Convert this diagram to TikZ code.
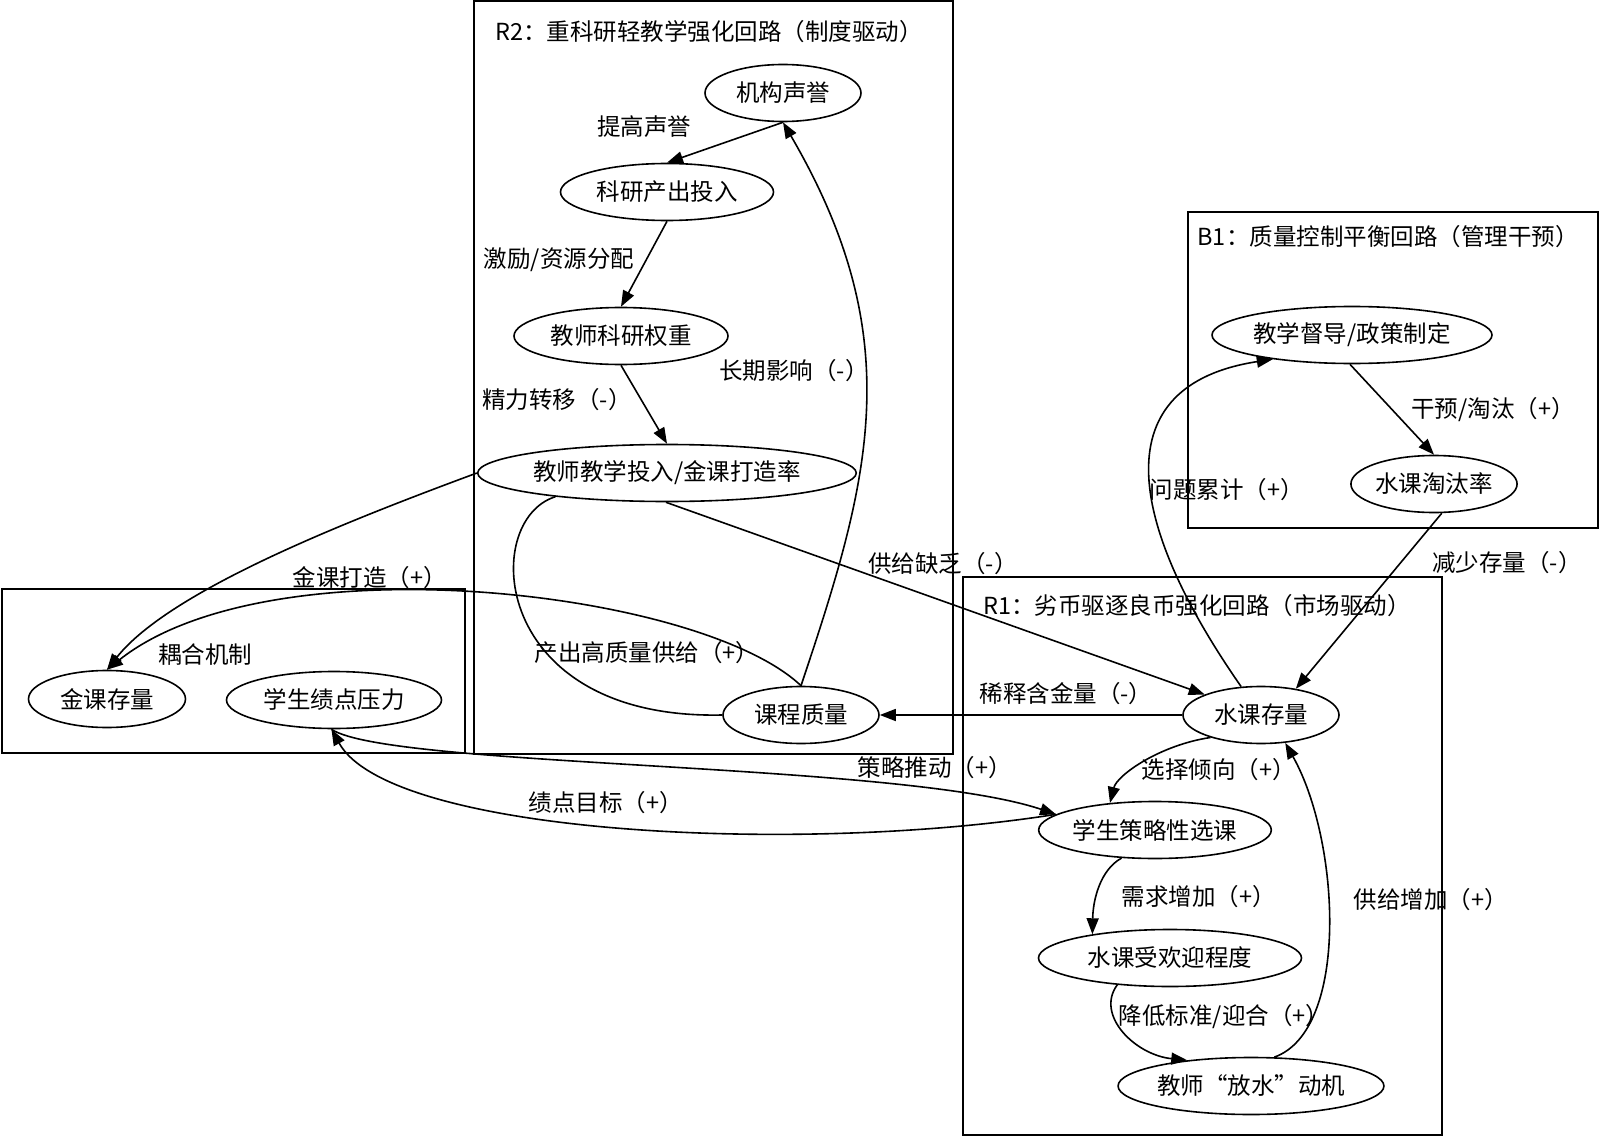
\documentclass[tikz,border=0pt]{standalone}
\usepackage{fontspec}
\setmainfont{Noto Sans CJK SC}
\usetikzlibrary{arrows.meta,shapes.geometric}
\newcommand\dgfont{\fontsize{23.5}{28}\selectfont}
\begin{document}
\begin{tikzpicture}[x=1pt,y=-1pt,
  var/.style={draw,ellipse,line width=1.6pt,inner sep=0pt,minimum height=57pt,font=\dgfont},
  lbl/.style={inner sep=0pt,font=\dgfont},
  clus/.style={draw,line width=1.6pt},
  lnk/.style={line width=1.6pt,-{Triangle[length=16pt,width=12pt]}},
  plain/.style={line width=1.6pt}]
\fill[white] (0,0) rectangle (1599,1137);
\useasboundingbox (0,0) rectangle (1599,1137);

% clusters
\draw[clus] (474,1) rectangle (953,754);
\draw[clus] (1188,212) rectangle (1598,528);
\draw[clus] (2,589) rectangle (465,753);
\draw[clus] (963,577) rectangle (1442,1135);
\node[lbl] (tR2) at (709,32) {R2：重科研轻教学强化回路（制度驱动）};
\node[lbl] (tB1) at (1388,237) {B1：质量控制平衡回路（管理干预）};
\node[lbl] (tR1) at (1197,606) {R1：劣币驱逐良币强化回路（市场驱动）};

% nodes
\node[var,minimum width=156pt] (rep) at (783,93) {机构声誉};
\node[var,minimum width=213pt] (res) at (667,192) {科研产出投入};
\node[var,minimum width=214pt] (wt) at (621,336) {教师科研权重};
\node[var,minimum width=350pt] (tch) at (667,473) {教师教学投入/金课打造率};
\node[var,minimum width=156pt] (qual) at (801,715) {课程质量};
\node[var,minimum width=157pt] (gold) at (107,699) {金课存量};
\node[var,minimum width=215pt] (gpa) at (334,700) {学生绩点压力};
\node[var,minimum width=280pt] (sup) at (1352,335) {教学督导/政策制定};
\node[var,minimum width=156pt] (elim) at (1434,484) {水课淘汰率};
\node[var,minimum width=156pt] (water) at (1261,715) {水课存量};
\node[var,minimum width=232pt] (sel) at (1155,830) {学生策略性选课};
\node[var,minimum width=263pt] (pop) at (1170,958) {水课受欢迎程度};
\node[var,minimum width=262pt] (fang) at (1251,1086) {教师{\addfontfeature{CharacterWidth=Full}“放水”}动机};

% edges R2
\draw[lnk] (rep.south) -- (res.north);
\draw[lnk] (res.south) -- (wt.north);
\draw[lnk] (wt.south) -- (tch.north);
\draw[lnk] (qual.north) .. controls (870,480) and (910,340) .. (rep.south);
\draw[plain] (tch.192) .. controls (480,520) and (490,720) .. (qual.west);
\draw[lnk] (qual.north) .. controls (700,590) and (270,540) .. (gold.north);
\draw[lnk] (tch.west) .. controls (350,520) and (170,590) .. (gold.north);
\draw[lnk] (tch.268) -- (water.160);
\draw[lnk] (water.west) -- (qual.east);

% edges B1
\draw[lnk] (water.125) .. controls (1125,520) and (1105,385) .. (sup.197);
\draw[lnk] (sup.266) -- (elim.north);
\draw[lnk] (elim.285) -- (water.37);

% edges R1
\draw[lnk] (water.204) .. controls (1160,745) and (1117,775) .. (sel.149);
\draw[lnk] (sel.220) .. controls (1100,870) and (1093,900) .. (pop.163);
\draw[lnk] (pop.207) .. controls (1095,1015) and (1135,1055) .. (fang.158);
\draw[lnk] (fang.51) .. controls (1350,1030) and (1340,840) .. (water.311);

% coupling edges
\draw[lnk] (gpa.265) .. controls (390,768) and (900,762) .. (sel.171);
\draw[lnk] (sel.171) .. controls (800,855) and (390,835) .. (gpa.265);

% edge labels
\node[lbl] (l1) at (644,127) {提高声誉};
\node[lbl] (l2) at (559,260) {激励/资源分配};
\node[lbl] (l3) at (557,400) {精力转移（-）};
\node[lbl] (l4) at (794,371) {长期影响（-）};
\node[lbl] (l5) at (647,653) {产出高质量供给（+）};
\node[lbl] (l6) at (370,578) {金课打造（+）};
\node[lbl] (l7) at (205,655) {耦合机制};
\node[lbl] (l8) at (943,564) {供给缺乏（-）};
\node[lbl] (l9) at (1066,694) {稀释含金量（-）};
\node[lbl] (l10) at (1227,490) {问题累计（+）};
\node[lbl] (l11) at (1493,410) {干预/淘汰（+）};
\node[lbl] (l12) at (1507,563) {减少存量（-）};
\node[lbl] (l13) at (1219,770) {选择倾向（+）};
\node[lbl] (l14) at (1199,897) {需求增加（+）};
\node[lbl] (l15) at (1224,1017) {降低标准/迎合（+）};
\node[lbl] (l16) at (1431,900) {供给增加（+）};
\node[lbl] (l17) at (935,768) {策略推动（+）};
\node[lbl] (l18) at (606,803) {绩点目标（+）};
\end{tikzpicture}
\end{document}
